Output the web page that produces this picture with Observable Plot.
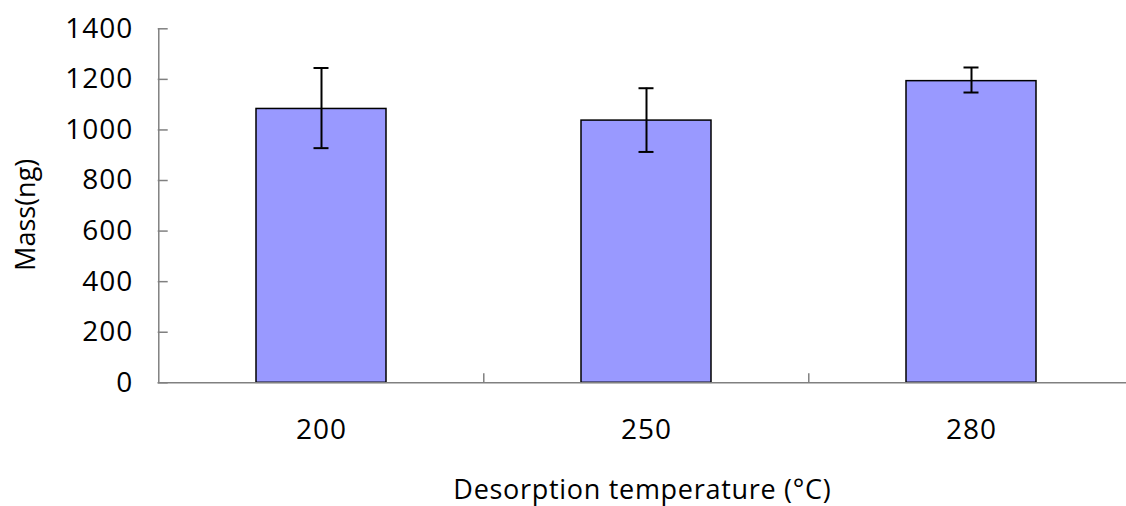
<!DOCTYPE html>
<html>
<head>
<meta charset="utf-8">
<script src="https://cdn.jsdelivr.net/npm/d3@7"></script>
<script src="https://cdn.jsdelivr.net/npm/@observablehq/plot@0.6"></script>
<style>
  html, body { margin: 0; padding: 0; background: #fff; overflow: hidden; }
  svg { display: block; }
  g[aria-label="y-axis tick label"] text, g[aria-label="x-axis tick label"] text { letter-spacing: 1px; }
  g.x-title text { letter-spacing: 0.7px; }
</style>
</head>
<body>
<div id="chart"></div>
<script>
// ---- data ----
const temperatures = ["200", "250", "280"];
const massMean = [1083, 1037, 1193];
const errorLow = [928, 913, 1148];
const errorHigh = [1245, 1165, 1247];
const yTicks = [0, 200, 400, 600, 800, 1000, 1200, 1400];
const xTitle = "Desorption temperature (°C)";
const yTitle = "Mass(ng)";

const rows = temperatures.map((t, i) => ({ t, m: massMean[i], lo: errorLow[i], hi: errorHigh[i] }));

// ---- layout ----
const W = 1126, H = 506;
const plotLeft = 157.7, plotRight = 1134, plotTop = 28.3, plotBottom = 382.3;
const pIn = 0.6, pOut = 0.3;
const step = (plotRight - plotLeft) / (temperatures.length - pIn + 2 * pOut);
const font = "'Open Sans', sans-serif";
const axisColor = "#808080";
const fs = 28;

const chart = Plot.plot({
  width: W, height: H,
  marginLeft: plotLeft, marginRight: 0, marginTop: plotTop, marginBottom: H - plotBottom,
  style: { fontFamily: font, fontSize: fs + "px", background: "#fff", color: "#000" },
  x: { domain: temperatures, range: [plotLeft, plotRight], paddingInner: pIn, paddingOuter: pOut, axis: null },
  y: { domain: [0, 1400], axis: null },
  marks: [
    Plot.barY(rows, { x: "t", y: "m", fill: "#9999ff", stroke: "#000", strokeWidth: 1.5 }),
    Plot.ruleX(rows, { x: "t", y1: "lo", y2: "hi", stroke: "#000", strokeWidth: 2 }),
    Plot.tickY(rows, { x: "t", y: "lo", stroke: "#000", strokeWidth: 2, insetLeft: 57.5, insetRight: 57.5 }),
    Plot.tickY(rows, { x: "t", y: "hi", stroke: "#000", strokeWidth: 2, insetLeft: 57.5, insetRight: 57.5 }),
    Plot.ruleY([0], { stroke: axisColor, strokeWidth: 1.5 }),
    Plot.ruleX([temperatures[0]], { x: d => d, dx: -step / 2, y1: 0, y2: 1400, stroke: axisColor, strokeWidth: 1.5 }),
    Plot.tickY(yTicks, { y: d => d, stroke: axisColor, strokeWidth: 1.5, insetRight: W - plotLeft - 10 }),
    Plot.ruleX(temperatures.slice(1), { x: d => d, dx: -step / 2, y1: 0, y2: 0, insetTop: -9, stroke: axisColor, strokeWidth: 1.5 }),
    Plot.axisY({ ticks: yTicks, tickSize: 0, tickPadding: 25, fontSize: fs, label: null, tickFormat: d => String(d) }),
    Plot.axisX({ tickSize: 0, tickPadding: 36, fontSize: fs, label: null }),
    Plot.text([yTitle], { frameAnchor: "left", textAnchor: "middle", lineAnchor: "middle", dx: -132, dy: 9, rotate: -90, fontSize: 27, fill: "#000" }),
    Plot.text([xTitle], { frameAnchor: "bottom", textAnchor: "middle", lineAnchor: "bottom", dy: 116, fontSize: 27, fill: "#000", className: "x-title" })
  ]
});
document.getElementById("chart").appendChild(chart);
</script>
</body>
</html>
